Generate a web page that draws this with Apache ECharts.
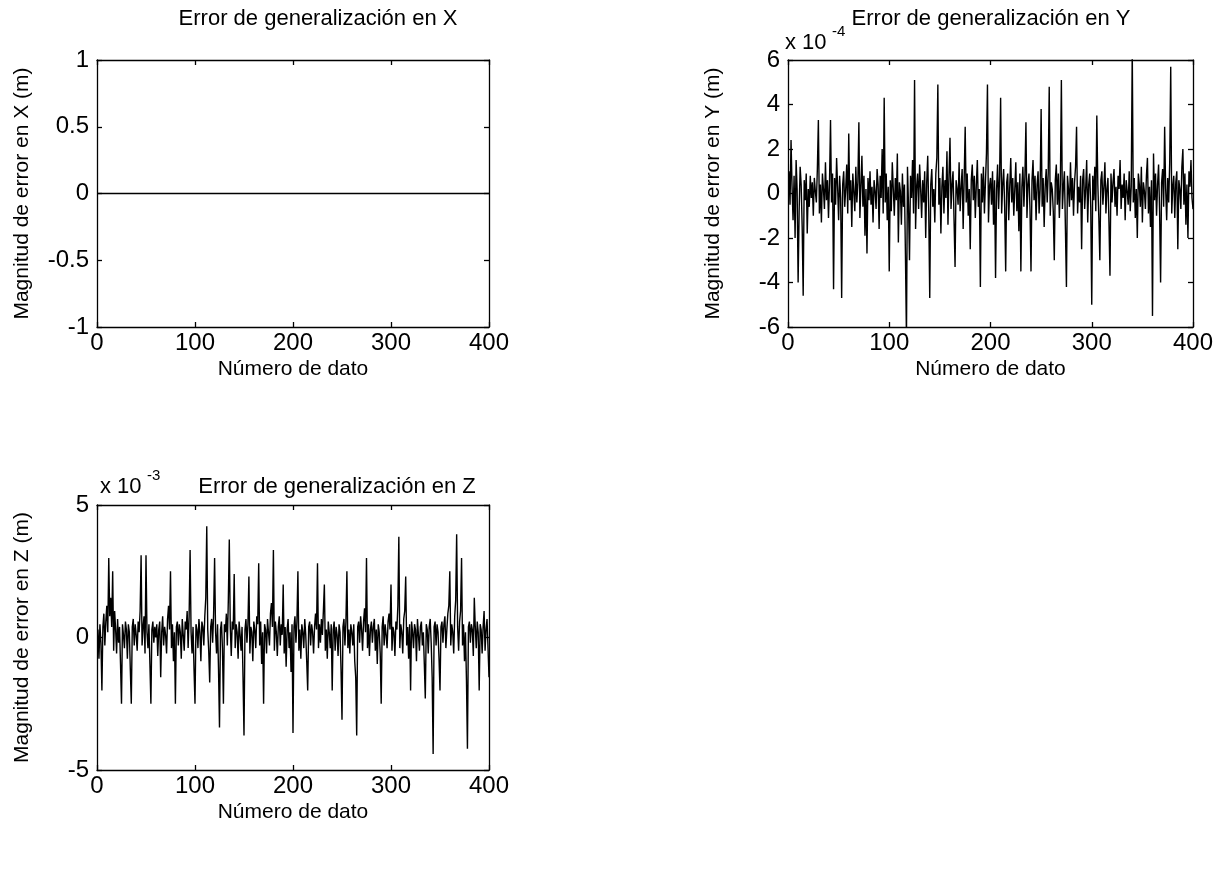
<!DOCTYPE html>
<html><head><meta charset="utf-8">
<script src="https://cdn.jsdelivr.net/npm/echarts@6/dist/echarts.min.js"></script>
<style>html,body{margin:0;padding:0;background:#fff}#c{width:1227px;height:888px}</style>
</head><body><div id="c"></div>
<script>
// ---------------- DATA ----------------
const xTicks = [0, 100, 200, 300, 400];
const yTicksX = [-1, -0.5, 0, 0.5, 1];
const yTicksY = [-6, -4, -2, 0, 2, 4, 6];
const yTicksZ = [-5, 0, 5];
const titles = ['Error de generalización en X', 'Error de generalización en Y', 'Error de generalización en Z'];
const yNames = ['Magnitud de error en X (m)', 'Magnitud de error en Y (m)', 'Magnitud de error en Z (m)'];
const xName = 'Número de dato';
const expY = '-4';
const expZ = '-3';

// error in X (m): identically zero
const errX = [
0,0,0,0,0,0,0,0,0,0,0,0,0,0,0,0,0,0,0,0, 0,0,0,0,0,0,0,0,0,0,0,0,0,0,0,0,0,0,0,0,
0,0,0,0,0,0,0,0,0,0,0,0,0,0,0,0,0,0,0,0, 0,0,0,0,0,0,0,0,0,0,0,0,0,0,0,0,0,0,0,0,
0,0,0,0,0,0,0,0,0,0,0,0,0,0,0,0,0,0,0,0, 0,0,0,0,0,0,0,0,0,0,0,0,0,0,0,0,0,0,0,0,
0,0,0,0,0,0,0,0,0,0,0,0,0,0,0,0,0,0,0,0, 0,0,0,0,0,0,0,0,0,0,0,0,0,0,0,0,0,0,0,0,
0,0,0,0,0,0,0,0,0,0,0,0,0,0,0,0,0,0,0,0, 0,0,0,0,0,0,0,0,0,0,0,0,0,0,0,0,0,0,0,0,
0,0,0,0,0,0,0,0,0,0,0,0,0,0,0,0,0,0,0,0, 0,0,0,0,0,0,0,0,0,0,0,0,0,0,0,0,0,0,0,0,
0,0,0,0,0,0,0,0,0,0,0,0,0,0,0,0,0,0,0,0, 0,0,0,0,0,0,0,0,0,0,0,0,0,0,0,0,0,0,0,0,
0,0,0,0,0,0,0,0,0,0,0,0,0,0,0,0,0,0,0,0, 0,0,0,0,0,0,0,0,0,0,0,0,0,0,0,0,0,0,0,0,
0,0,0,0,0,0,0,0,0,0,0,0,0,0,0,0,0,0,0,0, 0,0,0,0,0,0,0,0,0,0,0,0,0,0,0,0,0,0,0,0,
0,0,0,0,0,0,0,0,0,0,0,0,0,0,0,0,0,0,0,0, 0,0,0,0,0,0,0,0,0,0,0,0,0,0,0,0,0,0,0,0
];

// error in Y, units of 1e-4 m
const errY = [
1.0,-0.5,2.4,0.3,-1.2,0.8,-2.0,1.5,0.2,-4.0,-0.8,1.2,0.4,-1.5,-4.6,0.6,-0.3,0.9,-1.8,0.2,
-0.6,0.8,-0.2,0.5,-1.0,0.7,0.1,-0.4,1.1,3.3,-0.9,0.4,-1.3,0.9,0.2,-0.7,1.4,-0.3,0.6,-1.1,
0.5,3.3,-0.4,0.9,-4.3,0.7,-0.5,1.6,0.3,-1.2,0.8,-0.2,-4.7,0.4,1.0,-0.6,0.2,1.3,-0.9,2.7,
-0.3,0.6,-1.5,0.9,0.1,-0.8,1.2,-0.4,0.5,3.2,-1.1,0.3,1.7,-0.6,0.8,-1.9,0.2,-2.7,0.7,-0.3,
1.0,-0.5,0.3,-1.3,0.6,0.1,-0.7,1.1,0.4,-1.6,0.8,-0.2,2.0,-0.9,4.3,-0.4,0.9,-1.2,0.3,-3.5,
0.6,-0.8,1.4,0.2,-1.0,0.7,-0.3,1.8,-2.2,0.5,0.1,-1.4,0.9,-0.6,0.4,-2.8,-6.5,1.2,-0.5,-3.0,
0.8,-0.2,1.5,-0.9,5.1,-1.6,0.3,0.9,-0.7,1.3,0.2,-1.1,0.6,-0.4,1.0,-2.0,0.5,1.7,-0.8,-4.7,
0.4,1.1,-0.6,0.2,-1.3,0.9,1.6,4.9,-0.5,0.7,-1.8,0.3,1.2,-0.9,0.6,-0.2,1.9,-1.4,0.8,2.5,
-0.7,0.4,1.0,-1.2,-3.3,0.6,0.2,-0.5,1.4,-0.8,0.3,1.1,-1.6,0.7,3.0,-0.4,0.9,-1.0,0.2,-2.5,
0.6,1.3,-0.3,0.8,-1.1,0.4,1.5,-0.6,0.2,-4.2,0.9,-0.4,1.2,-0.9,0.5,1.8,4.9,-1.3,0.3,0.7,
-0.5,1.0,-1.4,0.6,-3.8,0.2,1.3,-0.7,0.8,4.3,-0.9,0.4,1.1,-0.6,-3.5,0.5,0.9,-1.2,0.3,1.6,
-0.4,0.7,-1.0,0.2,1.4,-0.8,0.5,-1.7,0.9,-3.5,0.3,1.2,-0.6,0.8,3.2,-1.1,0.4,0.9,-0.7,-3.5,
0.6,1.5,-0.3,0.8,-1.2,0.4,1.0,-0.9,0.2,3.8,-0.6,0.7,-1.5,0.3,1.1,-0.4,0.9,4.8,-1.0,0.5,
0.2,-0.8,-3.0,0.6,1.3,-0.5,0.9,-1.1,0.4,5.1,-0.7,0.3,1.0,-1.6,-4.2,0.8,0.2,-0.6,1.4,-0.3,
0.7,-1.0,0.5,1.2,3.0,-0.9,0.3,-0.4,0.8,-2.5,0.6,1.1,-0.7,0.2,1.5,-1.3,0.4,0.9,-0.6,-5.0,
0.8,-0.3,1.2,-0.8,3.5,0.4,-1.1,-3.0,0.6,1.0,-0.5,0.3,1.4,-0.9,0.2,0.7,-1.3,-3.7,0.9,-0.4,
0.5,1.1,-0.6,0.3,-1.0,0.8,0.2,1.5,-0.7,0.4,-0.2,0.9,-1.2,0.6,0.1,-0.5,1.0,-0.8,0.3,6.5,
-0.4,0.7,-1.1,0.2,-2.0,0.9,0.4,-0.6,1.2,-1.3,0.5,0.1,-0.7,0.8,1.6,-0.9,0.3,-1.5,0.6,-5.5,
1.8,-0.3,0.9,-1.0,0.4,1.3,-0.8,-4.0,0.5,1.1,-0.6,3.0,0.2,-1.2,0.7,-0.4,1.4,5.7,-0.9,0.3,
0.8,-1.1,0.5,1.0,-2.5,0.6,0.2,-0.7,1.2,2.0,-0.5,0.9,-1.4,0.4,-2.0,1.0,0.3,1.5,-0.2,-0.7
];

// error in Z, units of 1e-3 m
const errZ = [
0.3,-0.8,0.5,-0.2,-2.0,0.4,0.9,-0.3,0.6,1.2,0.2,3.0,0.8,1.5,0.4,2.5,-0.5,1.0,0.3,-0.6,
0.7,-0.2,0.4,-1.0,-2.5,0.5,0.1,-0.4,0.6,0.3,-0.8,0.5,0.2,-1.2,-2.5,0.4,0.7,-0.3,0.5,0.1,
-0.5,0.6,0.2,1.0,3.1,-0.3,0.4,0.8,-0.6,3.1,0.2,-0.4,0.5,-1.0,-2.5,0.3,0.6,-0.2,0.4,0.0,
0.5,-0.7,0.3,0.6,-1.5,0.2,0.8,-0.3,0.4,0.1,-0.6,0.7,1.2,0.3,2.5,-0.4,0.5,-0.9,0.2,-2.5,
0.4,0.6,-0.3,0.5,0.2,-0.8,0.7,0.1,-0.5,0.6,0.3,1.0,-0.4,0.8,3.3,0.2,-0.6,0.4,-1.2,-2.5,
0.5,0.3,-0.4,0.7,0.2,-0.9,0.6,0.4,-0.3,0.8,1.5,4.2,0.3,-0.5,-1.7,0.4,0.7,-0.2,0.9,3.0,
0.2,-0.6,0.5,-1.2,-3.4,0.3,0.6,-0.4,-2.5,0.5,0.2,0.9,-0.3,1.4,3.7,0.4,-0.7,0.6,0.3,2.4,
-0.4,0.5,0.2,-0.8,0.6,0.1,-0.5,0.4,-1.5,-3.7,0.3,0.7,-0.2,0.5,2.3,-0.6,0.4,0.2,-0.9,0.6,
0.3,-0.4,0.8,0.5,2.8,-0.3,0.6,-1.0,0.2,-2.5,0.5,0.3,-0.6,0.7,0.2,-0.3,0.9,1.3,0.4,3.3,
-0.5,0.6,0.2,-0.7,0.4,0.8,-0.3,0.5,0.1,2.0,-0.6,0.4,-1.1,0.3,0.7,-0.4,0.2,-1.3,0.5,-3.6,
0.4,0.8,-0.2,0.6,2.5,-0.5,0.3,-0.8,0.5,0.2,-0.4,0.7,0.1,-0.9,-2.0,0.4,0.6,-0.3,0.5,0.2,
-0.6,0.4,0.9,0.3,2.8,-0.4,0.5,-0.2,0.7,0.1,1.0,2.0,-0.5,0.3,-0.8,0.6,0.2,-0.4,0.5,-2.0,
0.3,0.6,-0.5,0.4,0.1,-0.7,0.5,0.2,-1.2,-3.1,0.4,0.7,-0.3,0.6,2.5,-0.4,0.3,-0.6,0.5,0.2,
-0.3,0.5,-0.9,-1.5,-3.7,0.4,0.6,-0.2,0.8,0.3,-0.5,0.6,1.1,0.2,3.0,-0.4,0.5,-0.7,0.3,0.6,
-0.2,0.4,0.7,-0.5,0.3,-1.0,0.5,0.2,-0.6,-2.5,0.4,0.8,-0.3,0.5,0.1,-0.4,0.6,0.9,0.3,2.0,
-0.5,0.4,0.2,-0.7,0.6,0.3,1.2,3.8,-0.4,0.5,0.2,-0.6,0.7,1.0,2.3,-0.3,0.4,-0.8,0.5,-2.0,
0.6,0.2,-0.4,0.5,0.3,-0.9,0.7,0.1,-0.5,0.4,0.6,-0.3,0.2,-1.0,-2.3,0.5,0.3,-0.6,0.4,0.7,
-0.2,-1.5,-4.4,0.4,0.6,-0.3,0.5,0.2,-0.8,-2.0,0.4,0.6,-0.2,0.5,0.8,-0.4,0.3,0.9,1.2,2.5,
-0.3,0.5,0.2,-0.6,0.8,1.4,3.9,0.4,-0.5,0.6,1.0,3.0,-0.3,0.5,-0.9,0.2,-1.6,-4.2,0.4,0.6,
-0.2,0.5,0.3,-0.7,1.5,0.4,-0.4,0.6,0.2,-2.0,0.5,0.3,-0.6,0.4,1.0,-0.5,0.3,0.7,-0.4,-1.5
];

// ---------------- CHART ----------------
const F = '"Liberation Sans", Arial, sans-serif';
const grids = [
  {left: 97, top: 60, width: 392, height: 267},
  {left: 788, top: 60, width: 405, height: 267},
  {left: 97, top: 505, width: 392, height: 265}
];
const yTickSets = [yTicksX, yTicksY, yTicksZ];
const seriesData = [errX, errY, errZ];

const xAxis = [], yAxis = [], series = [];
grids.forEach((g, i) => {
  const line = {show: true, onZero: false, lineStyle: {color: '#000', width: 1.3}};
  const tick = {show: true, inside: true, length: 5, lineStyle: {color: '#000', width: 1.3}};
  xAxis.push({gridIndex: i, type: 'value', position: 'bottom', min: xTicks[0], max: xTicks[xTicks.length - 1],
    interval: xTicks[1] - xTicks[0], axisLine: line, axisTick: tick, splitLine: {show: false},
    axisLabel: {color: '#000', fontSize: 24, fontFamily: F, margin: 4},
    name: xName, nameLocation: 'middle', nameGap: 32,
    nameTextStyle: {color: '#000', fontSize: 21, fontFamily: F}});
  xAxis.push({gridIndex: i, type: 'value', position: 'top', min: xTicks[0], max: xTicks[xTicks.length - 1],
    interval: xTicks[1] - xTicks[0], axisLine: line, axisTick: tick, splitLine: {show: false}, axisLabel: {show: false}});
  const yt = yTickSets[i];
  yAxis.push({gridIndex: i, type: 'value', position: 'left', min: yt[0], max: yt[yt.length - 1],
    interval: yt[1] - yt[0], axisLine: line, axisTick: tick, splitLine: {show: false},
    axisLabel: {color: '#000', fontSize: 24, fontFamily: F, margin: 8},
    name: yNames[i], nameLocation: 'middle', nameGap: 64,
    nameTextStyle: {color: '#000', fontSize: 21, fontFamily: F}});
  yAxis.push({gridIndex: i, type: 'value', position: 'right', min: yt[0], max: yt[yt.length - 1],
    interval: yt[1] - yt[0], axisLine: line, axisTick: tick, splitLine: {show: false}, axisLabel: {show: false}});
  series.push({type: 'line', xAxisIndex: 2 * i, yAxisIndex: 2 * i, showSymbol: false, clip: true,
    lineStyle: {color: '#000', width: 1.4}, data: seriesData[i].map((v, k) => [k + 1, v])});
});

const txt = (text, x, y, size, align) => ({type: 'text', x: x, y: y, silent: true,
  style: {text: text, fontSize: size, fontFamily: F, fill: '#000', align: align || 'center', verticalAlign: 'middle'}});

const graphic = [
  txt(titles[0], 318, 19, 22),
  txt(titles[1], 991, 19, 22),
  txt(titles[2], 337, 487, 22),
  txt('x 10', 785, 43, 22, 'left'),
  txt(expY, 832, 32, 15, 'left'),
  txt('x 10', 100, 487, 22, 'left'),
  txt(expZ, 147, 476, 15, 'left')
];

const chart = echarts.init(document.getElementById('c'));
chart.setOption({animation: false, backgroundColor: '#fff', grid: grids, xAxis: xAxis, yAxis: yAxis, series: series, graphic: graphic});
</script></body></html>
